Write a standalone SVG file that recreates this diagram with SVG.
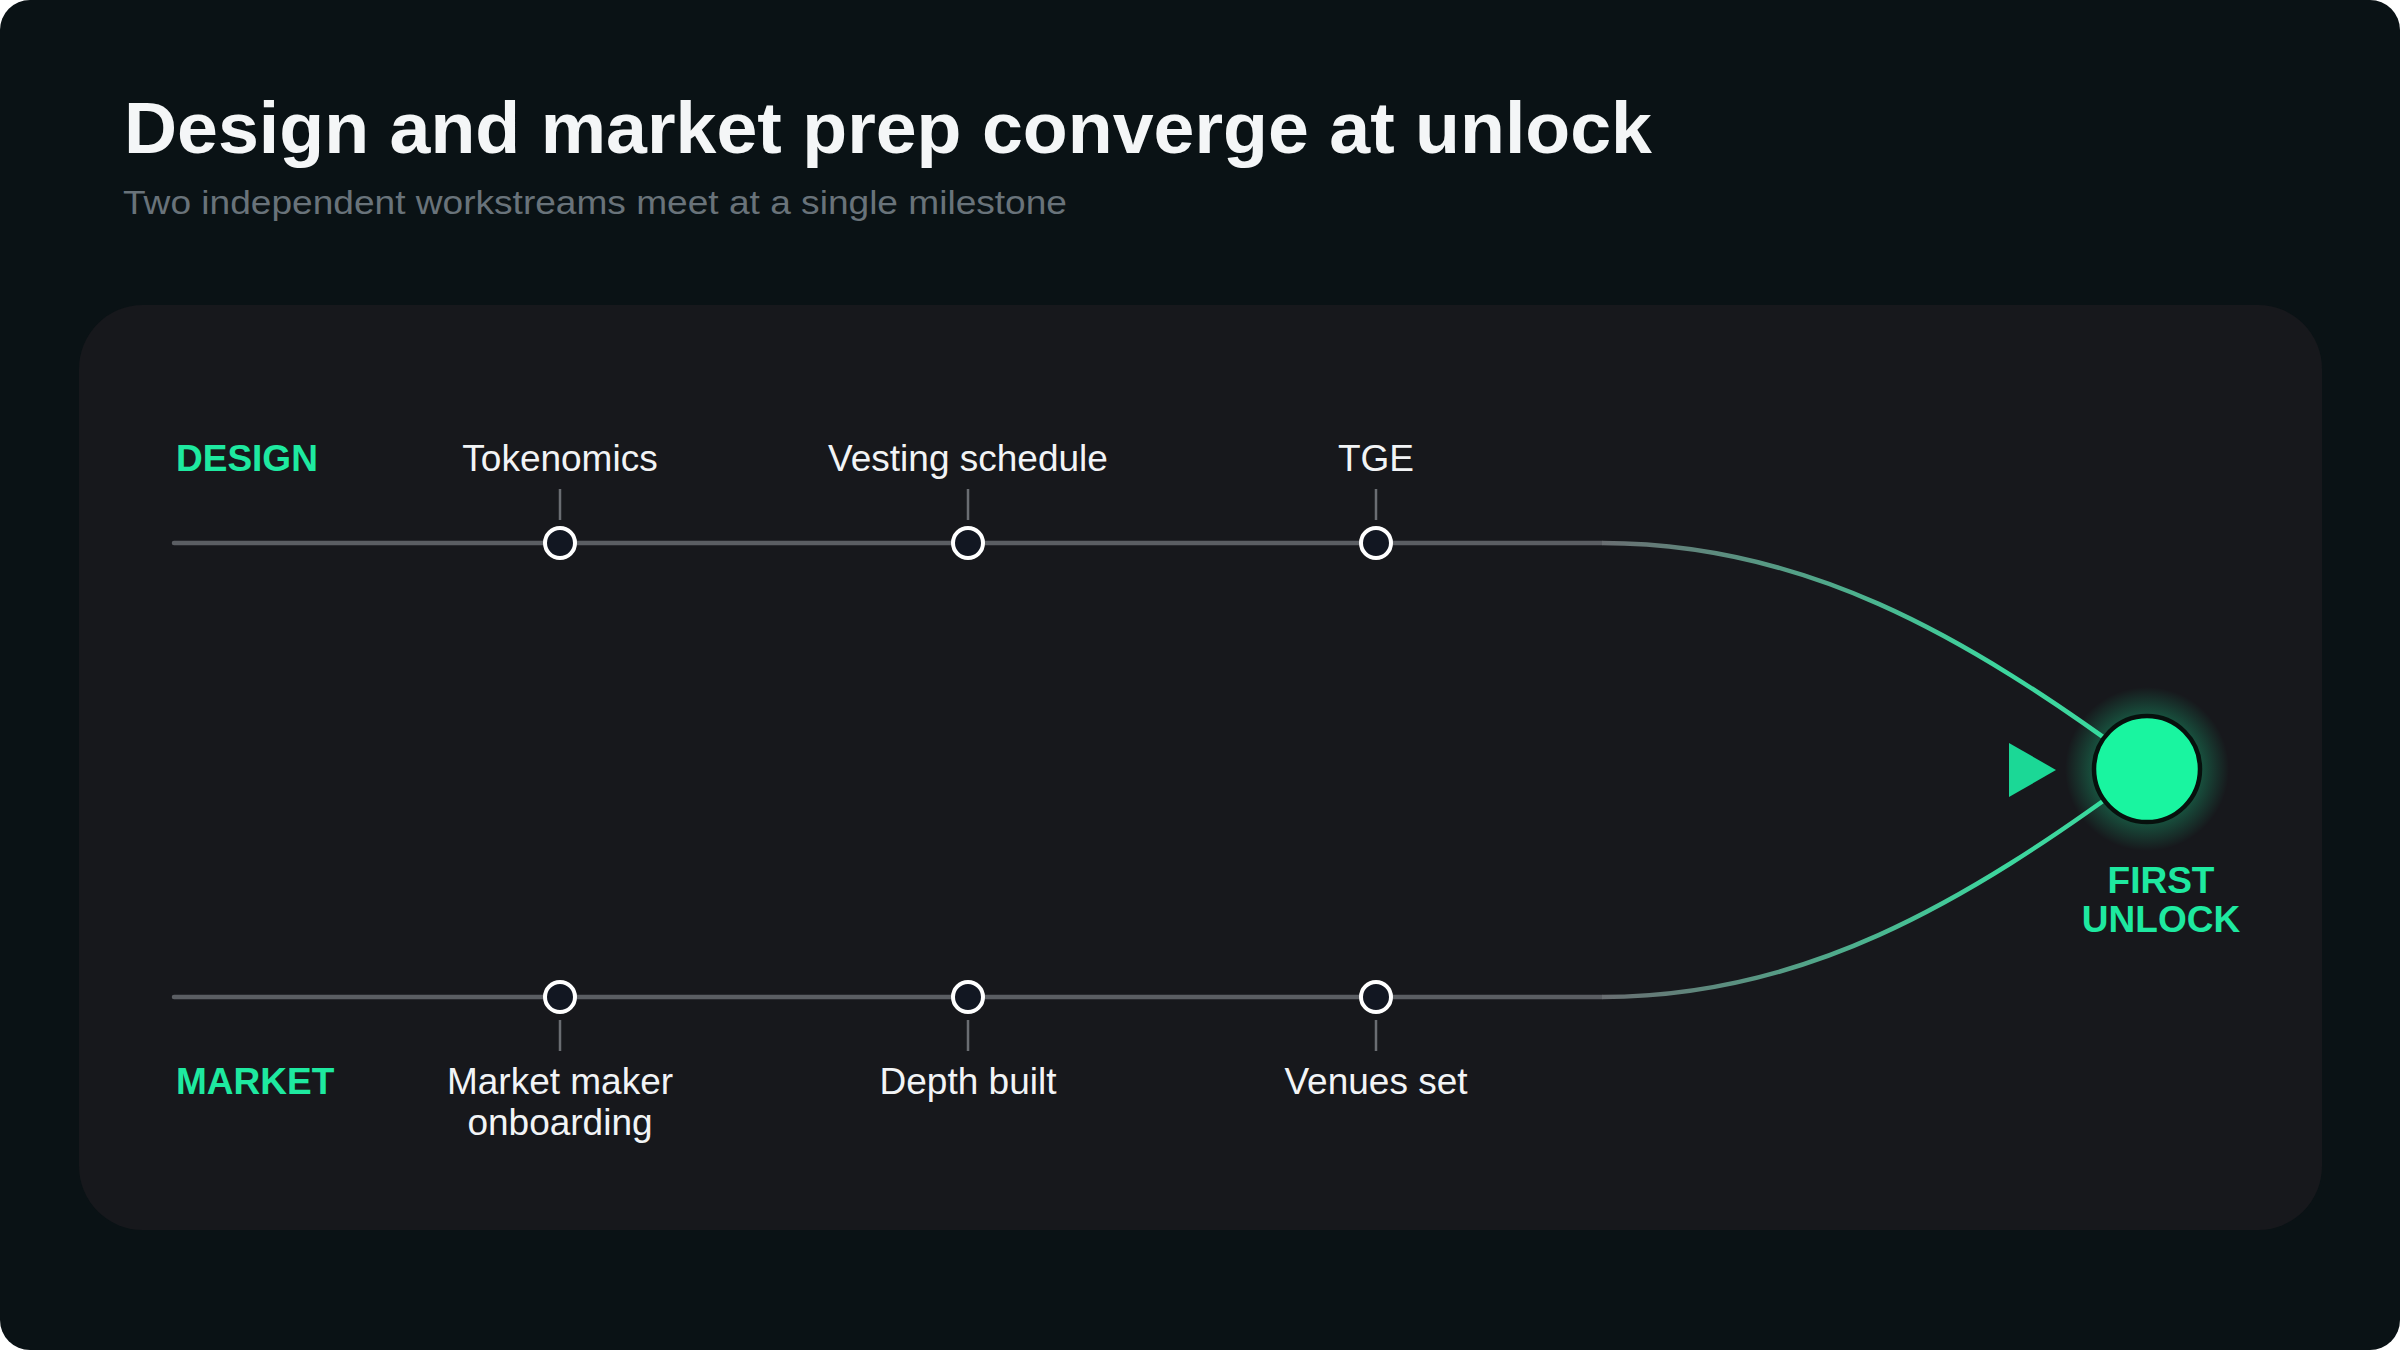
<svg xmlns="http://www.w3.org/2000/svg" width="2400" height="1350" viewBox="0 0 2400 1350">
  <style>
    .title { font-family: "Liberation Sans", Arial, sans-serif; font-weight: 700; font-size: 73px; fill: #f4f6f7; }
    .sub { font-family: "Liberation Sans", Arial, sans-serif; font-size: 34px; fill: #69737a; }
    .lane { font-family: "Liberation Sans", Arial, sans-serif; font-weight: 700; font-size: 37px; fill: #1ee9a0; }
    .lbl { font-family: "Liberation Sans", Arial, sans-serif; font-size: 37px; fill: #f2f4f6; text-anchor: middle; }
    .track { stroke: #5b5e63; stroke-width: 4.5; fill: none; stroke-linecap: round; }
    .tick { stroke: #6a6d72; stroke-width: 2.5; }
    .ms { fill: #121722; stroke: #ffffff; stroke-width: 4; }
  </style>
  <defs>
    <linearGradient id="gTop" gradientUnits="userSpaceOnUse" x1="1602" y1="0" x2="2000" y2="0">
      <stop offset="0" stop-color="#6a6e72"/>
      <stop offset="1" stop-color="#3dd69e"/>
    </linearGradient>
    <radialGradient id="glow" cx="0.5" cy="0.5" r="0.5">
      <stop offset="0.6" stop-color="#19f5a0" stop-opacity="0.3"/>
      <stop offset="1" stop-color="#19f5a0" stop-opacity="0"/>
    </radialGradient>
  </defs>
  <rect width="2400" height="1350" fill="#ffffff"/>
  <rect x="0" y="0" width="2400" height="1350" rx="30" fill="#0a1215"/>
  <text class="title" x="124" y="153" textLength="1528" lengthAdjust="spacingAndGlyphs">Design and market prep converge at unlock</text>
  <text class="sub" x="123" y="214" textLength="944" lengthAdjust="spacingAndGlyphs">Two independent workstreams meet at a single milestone</text>
  <rect x="79" y="305" width="2243" height="925" rx="64" fill="#17181c"/>

  <g id="connectors">
    <line class="track" x1="174" y1="543" x2="1602" y2="543"/>
    <line class="track" x1="174" y1="997" x2="1602" y2="997"/>
    <path d="M1602 543 C1800 543 1960 630 2147 769" stroke="url(#gTop)" stroke-width="4.5" fill="none"/>
    <path d="M1602 997 C1800 997 1960 908 2147 769" stroke="url(#gTop)" stroke-width="4.5" fill="none"/>
    <line class="tick" x1="560" y1="489" x2="560" y2="520"/>
    <line class="tick" x1="968" y1="489" x2="968" y2="520"/>
    <line class="tick" x1="1376" y1="489" x2="1376" y2="520"/>
    <line class="tick" x1="560" y1="1020" x2="560" y2="1051"/>
    <line class="tick" x1="968" y1="1020" x2="968" y2="1051"/>
    <line class="tick" x1="1376" y1="1020" x2="1376" y2="1051"/>
    <polygon points="2009,743 2056,770 2009,797" fill="#1bd896"/>
  </g>

  <g id="lane-design"><text class="lane" x="176" y="471">DESIGN</text></g>
  <g id="lane-market"><text class="lane" x="176" y="1094">MARKET</text></g>

  <g id="tokenomics"><circle class="ms" cx="560" cy="543" r="15"/><text class="lbl" x="560" y="471">Tokenomics</text></g>
  <g id="vesting"><circle class="ms" cx="968" cy="543" r="15"/><text class="lbl" x="968" y="471">Vesting schedule</text></g>
  <g id="tge"><circle class="ms" cx="1376" cy="543" r="15"/><text class="lbl" x="1376" y="471">TGE</text></g>

  <g id="mm-onboarding"><circle class="ms" cx="560" cy="997" r="15"/><text class="lbl" x="560" y="1094">Market maker</text><text class="lbl" x="560" y="1135">onboarding</text></g>
  <g id="depth"><circle class="ms" cx="968" cy="997" r="15"/><text class="lbl" x="968" y="1094">Depth built</text></g>
  <g id="venues"><circle class="ms" cx="1376" cy="997" r="15"/><text class="lbl" x="1376" y="1094">Venues set</text></g>

  <g id="first-unlock">
    <circle cx="2147" cy="769" r="82" fill="url(#glow)"/>
    <circle cx="2147" cy="769" r="53" fill="#19f5a0" stroke="#07100d" stroke-width="4.5"/>
    <text class="lane" x="2161" y="893" text-anchor="middle" font-size="35">FIRST</text>
    <text class="lane" x="2161" y="932" text-anchor="middle" font-size="35">UNLOCK</text>
  </g>
</svg>
